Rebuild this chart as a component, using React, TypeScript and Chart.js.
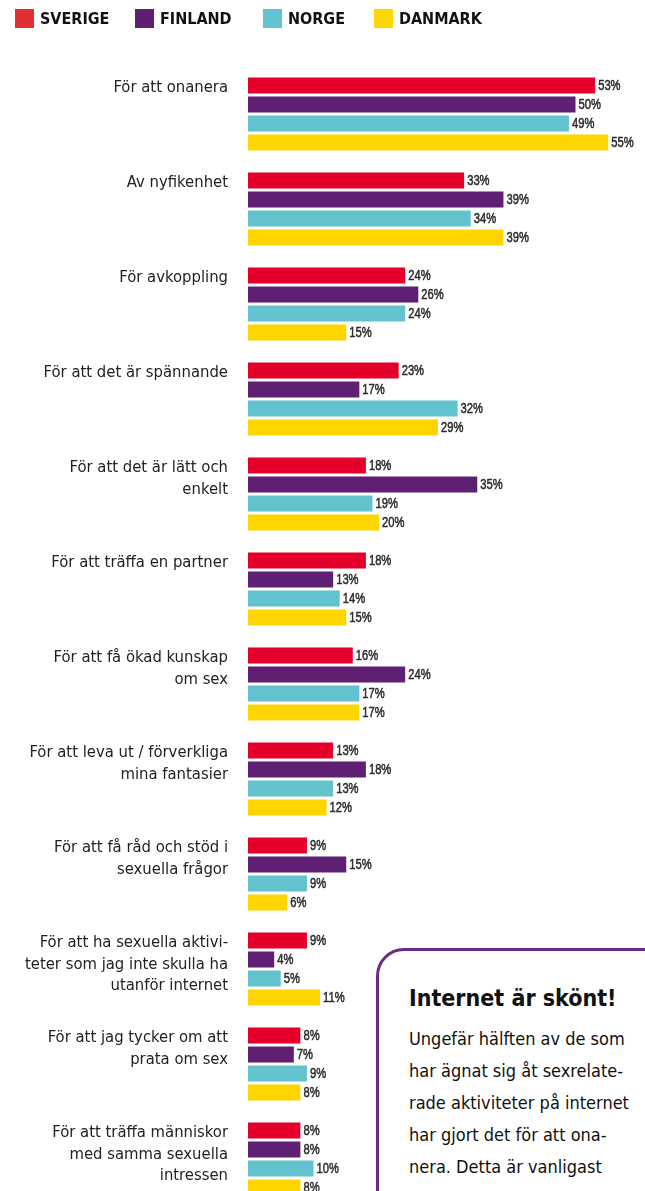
import React, { useEffect, useRef } from "react";
import { Chart, registerables } from "chart.js";

Chart.register(...registerables);

const categories: string[][] = [
  ["För att onanera"],
  ["Av nyfikenhet"],
  ["För avkoppling"],
  ["För att det är spännande"],
  ["För att det är lätt och", "enkelt"],
  ["För att träffa en partner"],
  ["För att få ökad kunskap", "om sex"],
  ["För att leva ut / förverkliga", "mina fantasier"],
  ["För att få råd och stöd i", "sexuella frågor"],
  ["För att ha sexuella aktivi-", "teter som jag inte skulla ha", "utanför internet"],
  ["För att jag tycker om att", "prata om sex"],
  ["För att träffa människor", "med samma sexuella", "intressen"],
];

const seriesNames = ["SVERIGE", "FINLAND", "NORGE", "DANMARK"];
const sverige = [53, 33, 24, 23, 18, 18, 16, 13, 9, 9, 8, 8];
const finland = [50, 39, 26, 17, 35, 13, 24, 18, 15, 4, 7, 8];
const norge = [49, 34, 24, 32, 19, 14, 17, 13, 9, 5, 9, 10];
const danmark = [55, 39, 15, 29, 20, 15, 17, 12, 6, 11, 8, 8];

const barColors = ["#e4002b", "#5f1f73", "#62c3cf", "#ffd500"];
const legendColors = ["#e03036", "#5e1f73", "#63c3d1", "#ffd600"];

const labelFont = "16.5px 'DejaVu Sans Condensed', 'DejaVu Sans', sans-serif";
const valueFont = "14px 'Liberation Sans', Arial, sans-serif";
const legendFont = "bold 16px 'DejaVu Sans Condensed', 'DejaVu Sans', sans-serif";

const drawPlugin = {
  id: "customDraw",
  afterDatasetsDraw(chart: any) {
    const ctx = chart.ctx;
    ctx.save();
    // legend
    const legendX = [15, 135, 263, 374];
    seriesNames.forEach((name, i) => {
      ctx.fillStyle = legendColors[i];
      ctx.fillRect(legendX[i], 9, 19, 19);
      ctx.fillStyle = "#111";
      ctx.font = legendFont;
      ctx.textAlign = "left";
      ctx.textBaseline = "middle";
      ctx.fillText(name, legendX[i] + 25, 19.5);
    });
    // category labels
    const meta0 = chart.getDatasetMeta(0);
    ctx.font = labelFont;
    ctx.fillStyle = "#222";
    ctx.textAlign = "right";
    ctx.textBaseline = "middle";
    categories.forEach((lines, i) => {
      const el = meta0.data[i];
      if (!el) return;
      lines.forEach((line, j) => {
        ctx.fillText(line, 228, el.y + 2.5 + j * 21.5);
      });
    });
    // value labels (narrowed horizontally, medium weight)
    ctx.font = valueFont;
    ctx.fillStyle = "#2b2b2b";
    ctx.strokeStyle = "#2b2b2b";
    ctx.lineWidth = 0.5;
    ctx.textAlign = "left";
    chart.data.datasets.forEach((ds: any, di: number) => {
      const meta = chart.getDatasetMeta(di);
      meta.data.forEach((el: any, i: number) => {
        ctx.save();
        ctx.translate(el.x + 3, el.y + 1);
        ctx.scale(0.8, 1);
        const t = ds.data[i] + "%";
        ctx.fillText(t, 0, 0);
        ctx.strokeText(t, 0, 0);
        ctx.restore();
      });
    });
    ctx.restore();
  },
};

export default function App() {
  const ref = useRef<HTMLCanvasElement>(null);
  useEffect(() => {
    document.body.style.margin = "0";
    const chart = new Chart(ref.current!, {
      type: "bar",
      data: {
        labels: categories.map((c) => c.join(" ")),
        datasets: [sverige, finland, norge, danmark].map((d, i) => ({
          label: seriesNames[i],
          data: d,
          backgroundColor: barColors[i],
          categoryPercentage: 0.8,
          barPercentage: 0.85,
        })),
      },
      options: {
        indexAxis: "y",
        animation: false,
        responsive: false,
        maintainAspectRatio: false,
        layout: { padding: { left: 248, right: 4, top: 66.5, bottom: 13.5 } },
        scales: {
          x: { display: false, min: 0, max: 60 },
          y: { display: false },
        },
        plugins: { legend: { display: false }, tooltip: { enabled: false } },
      },
      plugins: [drawPlugin],
    });
    return () => chart.destroy();
  }, []);

  return (
    <div style={{ position: "fixed", left: 0, top: 0, width: 645, height: 1191, overflow: "hidden", background: "#fff" }}>
      <canvas ref={ref} width={645} height={1220} style={{ position: "absolute", left: 0, top: 0 }} />
      <div
        style={{
          position: "absolute",
          left: 376,
          top: 948,
          width: 420,
          height: 400,
          border: "3px solid #6b2a84",
          borderRadius: 28,
          background: "#fff",
          boxSizing: "border-box",
          padding: "32px 0 0 30px",
          fontFamily: "'DejaVu Sans Condensed', 'DejaVu Sans', sans-serif",
          color: "#111",
          whiteSpace: "nowrap",
        }}
      >
        <div style={{ fontWeight: "bold", fontSize: 23, lineHeight: "30px", marginBottom: 10 }}>Internet är skönt!</div>
        <div style={{ fontSize: 18, lineHeight: "32px" }}>
          <div>Ungefär hälften av de som</div>
          <div>har ägnat sig åt sexrelate-</div>
          <div>rade aktiviteter på internet</div>
          <div>har gjort det för att ona-</div>
          <div>nera. Detta är vanligast</div>
        </div>
      </div>
    </div>
  );
}
